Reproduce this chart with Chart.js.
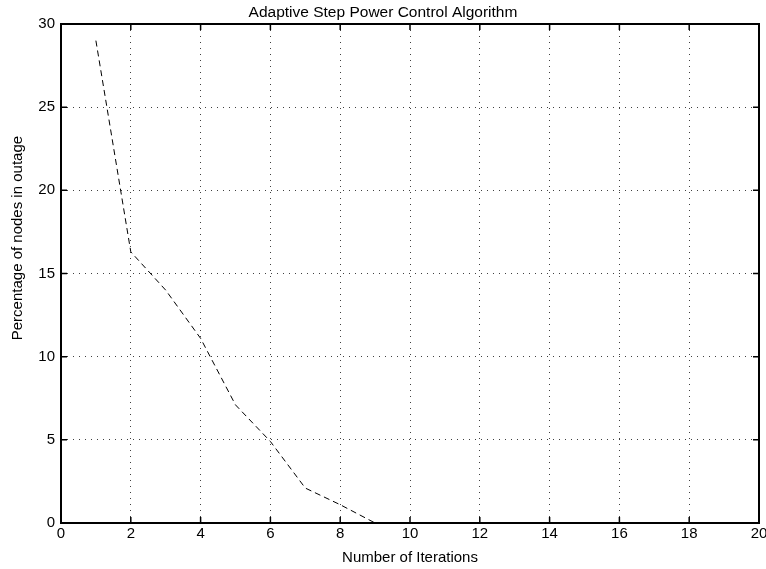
<!DOCTYPE html>
<html>
<head>
<meta charset="utf-8">
<script src="https://cdn.jsdelivr.net/npm/chart.js@4.4.1/dist/chart.umd.min.js"></script>
<style>
  html, body { margin: 0; padding: 0; background: #fff; overflow: hidden; }
  #wrap { width: 766px; height: 569px; }
</style>
</head>
<body>
<div id="wrap"><canvas id="outage"></canvas></div>
<script>
// iterations (x) and % nodes in outage (y)
const iterations = [1, 2, 3, 4, 5, 6, 7, 8, 9];
const outage = [29, 16.3, 14, 11.1, 7.1, 4.9, 2.1, 1.1, 0];

const xTicks = [0, 2, 4, 6, 8, 10, 12, 14, 16, 18, 20];
const yTicks = [0, 5, 10, 15, 20, 25, 30];

const font = "'Liberation Sans', Arial, Helvetica, sans-serif";

// matlab style box with inward ticks
const boxPlugin = {
    id: 'box',
    afterDraw(chart) {
        const ctx = chart.ctx;
        const a = chart.chartArea;
        const x = chart.scales.x;
        const y = chart.scales.y;
        ctx.save();
        ctx.strokeStyle = '#000';
        ctx.lineWidth = 1.5;
        ctx.beginPath();
        xTicks.forEach(v => {
            const px = x.getPixelForValue(v);
            ctx.moveTo(px, a.bottom); ctx.lineTo(px, a.bottom - 6);
            ctx.moveTo(px, a.top); ctx.lineTo(px, a.top + 6);
        });
        yTicks.forEach(v => {
            const py = y.getPixelForValue(v);
            ctx.moveTo(a.left, py); ctx.lineTo(a.left + 6, py);
            ctx.moveTo(a.right, py); ctx.lineTo(a.right - 6, py);
        });
        ctx.stroke();
        ctx.lineWidth = 2;
        ctx.strokeRect(a.left, a.top, a.right - a.left, a.bottom - a.top);
        ctx.restore();
    }
};

const data = {
    datasets: [{
        data: iterations.map((v, i) => ({x: v, y: outage[i]})),
        borderColor: '#000',
        borderWidth: 1,
        borderDash: [6, 4],
        pointRadius: 0,
        fill: false,
        tension: 0
    }]
};

const options = {
    responsive: true,
    maintainAspectRatio: false,
    animation: false,
    plugins: {
        legend: { display: false },
        tooltip: { enabled: false },
        title: {
            display: true,
            text: 'Adaptive Step Power Control Algorithm',
            color: '#000',
            font: { family: font, size: 15.5, weight: 'normal' },
            padding: { top: 3, bottom: 2.4 }
        }
    },
    scales: {
        x: {
            type: 'linear',
            min: 0,
            max: 20,
            afterBuildTicks: s => { s.ticks = xTicks.map(v => ({value: v})); },
            // last label ("20") is clipped at the right edge in the original
            afterFit: s => { s.height = 46; s.paddingRight = 7; },
            ticks: { color: '#000', font: { family: font, size: 15 }, padding: 2, maxRotation: 0 },
            grid: { color: 'rgba(0,0,0,0.75)', drawTicks: false },
            border: { display: false, dash: [1, 5] },
            title: {
                display: true,
                text: 'Number of Iterations',
                color: '#000',
                font: { family: font, size: 15 },
                padding: { top: 0, bottom: 2 }
            }
        },
        y: {
            type: 'linear',
            min: 0,
            max: 30,
            afterBuildTicks: s => { s.ticks = yTicks.map(v => ({value: v})); },
            afterFit: s => { s.width = 61; },
            ticks: { color: '#000', font: { family: font, size: 15 }, padding: 6 },
            grid: { color: 'rgba(0,0,0,0.75)', drawTicks: false },
            border: { display: false, dash: [1, 5] },
            title: {
                display: true,
                // leading spaces lift the label a bit, as in the original
                text: '\u00a0'.repeat(17) + 'Percentage of nodes in outage',
                color: '#000',
                font: { family: font, size: 15 },
                padding: { top: 9, bottom: 0 }
            }
        }
    }
};

const config = {
    type: 'line',
    data: data,
    options: options,
    plugins: [boxPlugin]
};

new Chart(document.getElementById('outage'), config);
</script>
</body>
</html>
